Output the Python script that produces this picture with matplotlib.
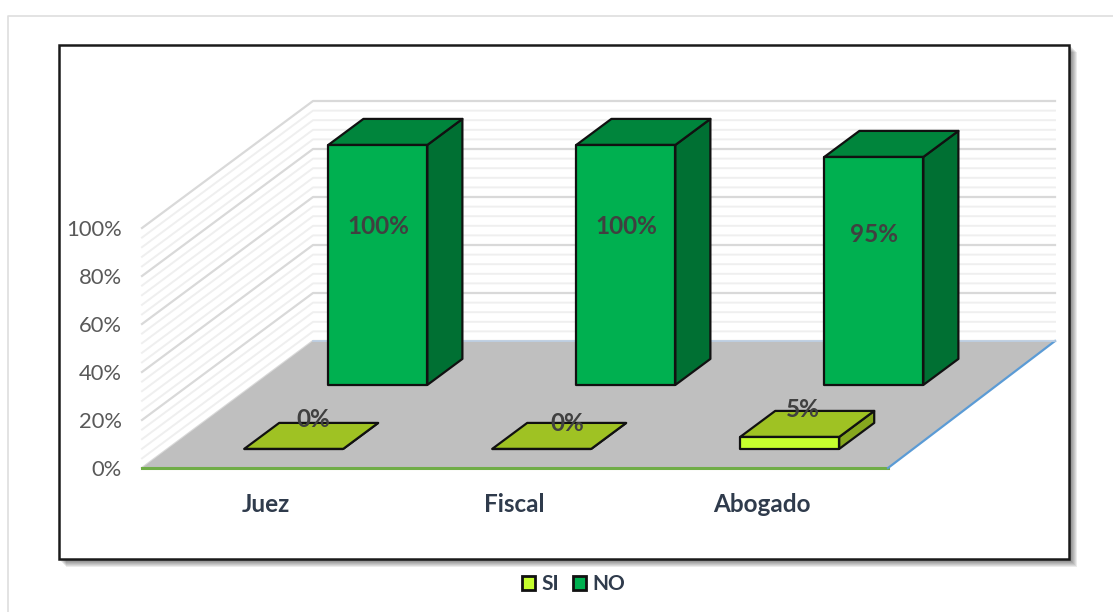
import matplotlib
matplotlib.use('Agg')
import matplotlib.pyplot as plt
from matplotlib.patches import Polygon, Rectangle

plt.rcParams['font.family'] = ['Lato', 'DejaVu Sans']

categories = ['Juez', 'Fiscal', 'Abogado']
si_values = [0, 0, 5]
no_values = [100, 100, 95]
y_ticks = [0, 20, 40, 60, 80, 100]
minor_ticks = list(range(0, 101, 4))

# pixel geometry of the fake 3d box
x0, y0 = 142, 468
floor_w = 746
back_w = 742
skew_x, skew_y = 171, 127
pct_h = 2.4
cat_step = 248
cat_first = 266
bar_w = 99
si_depth = (0.15, 0.355)
no_depth = (0.654, 0.859)
si_shift = 2

si_color = ('#C6FF2E', '#9FC223', '#86A71E')
no_color = ('#00B050', '#00853C', '#007033')
# where excel happened to put the labels of the SI bars
si_label_off = [(69, -31), (75, -27), (63, -29)]


def proj(x, depth, val):
    return (x0 + x + skew_x * depth, y0 - skew_y * depth - val * pct_h)


def draw_bar(ax, i, val, depth, colors, shift=0):
    xl = cat_first + i * cat_step - bar_w / 2 - x0 + shift
    xr = xl + bar_w
    d1, d2 = depth
    top = [proj(xl, d1, val), proj(xr, d1, val), proj(xr, d2, val), proj(xl, d2, val)]
    side = [proj(xr, d1, 0), proj(xr, d2, 0), proj(xr, d2, val), proj(xr, d1, val)]
    front = [proj(xl, d1, 0), proj(xr, d1, 0), proj(xr, d1, val), proj(xl, d1, val)]
    for pts, c in [(side, colors[2]), (top, colors[1]), (front, colors[0])]:
        ax.add_patch(Polygon(pts, closed=True, fc=c, ec='#111111', lw=1.6, joinstyle='round', zorder=5))
    return front


fig = plt.figure(figsize=(11.13, 6.12), dpi=100)
ax = fig.add_axes([0, 0, 1, 1])
ax.set_xlim(0, 1113)
ax.set_ylim(612, 0)
ax.axis('off')

# outer page line
ax.plot([7.5, 7.5, 1113], [612, 15.5, 15.5], color='#DEDEDE', lw=1.2)

# chart frame with soft shadow
for k in range(8):
    ax.add_patch(Rectangle((59 + k, 45 + k), 1010 + 1, 514 + 1, fc='#000000', alpha=0.08, ec='none'))
ax.add_patch(Rectangle((59, 45), 1010, 514, fc='white', ec='#1A1A1A', lw=1.8))

# walls
for v in minor_ticks:
    major = v % 20 == 0
    c = '#D9D9D9' if major else '#EFEFEF'
    lw = 1.6 if major else 1.4
    a = proj(0, 0, v)
    b = proj(0, 1, v)
    e = proj(back_w, 1, v)
    ax.plot([a[0], b[0], e[0]], [a[1], b[1], e[1]], color=c, lw=lw, zorder=1)

# floor
floor = [proj(0, 0, 0), proj(floor_w, 0, 0), proj(back_w, 1, 0), proj(0, 1, 0)]
ax.add_patch(Polygon(floor, closed=True, fc='#BFBFBF', ec='none', zorder=2))
ax.plot([floor[0][0], floor[1][0]], [floor[0][1], floor[1][1]], color='#70AD47', lw=2.2, zorder=3)
ax.plot([floor[1][0], floor[2][0]], [floor[1][1], floor[2][1]], color='#5B9BD5', lw=1.6, zorder=3)
ax.plot([floor[3][0], floor[2][0]], [floor[3][1], floor[2][1]], color='#BDD0E6', lw=1.2, zorder=3)

# bars, back row first
label_style = dict(ha='center', va='center', fontsize=17.5, fontweight='bold', color='#404040', zorder=10)
for i, v in enumerate(no_values):
    f = draw_bar(ax, i, v, no_depth, no_color)
    h = f[0][1] - f[3][1]
    ax.text((f[0][0] + f[1][0]) / 2, f[3][1] + 0.33 * h + 2, f'{v}%', **label_style)
for i, v in enumerate(si_values):
    f = draw_bar(ax, i, v, si_depth, si_color, si_shift)
    dx, dy = si_label_off[i]
    ax.text(f[3][0] + dx, f[3][1] + dy + 2, f'{v}%', **label_style)

# axis labels
for v in y_ticks:
    ax.text(122, y0 - v * pct_h + 2, f'{v}%', ha='right', va='center', fontsize=15.8, color='#595959')
for i, c in enumerate(categories):
    ax.text(cat_first + i * cat_step, 504, c, ha='center', va='center', fontsize=17.5,
            fontweight='bold', color='#2F3B4C')

# legend
for lx, tx, name, c in [(521, 541, 'SI', si_color[0]), (572, 592, 'NO', no_color[0])]:
    ax.add_patch(Rectangle((lx + 1, 576), 13, 14, fc=c, ec='#111111', lw=2))
    ax.text(tx, 584, name, ha='left', va='center', fontsize=15, fontweight='bold', color='#2F3B4C')

fig.savefig('out.png', dpi=100)
plt.close()
